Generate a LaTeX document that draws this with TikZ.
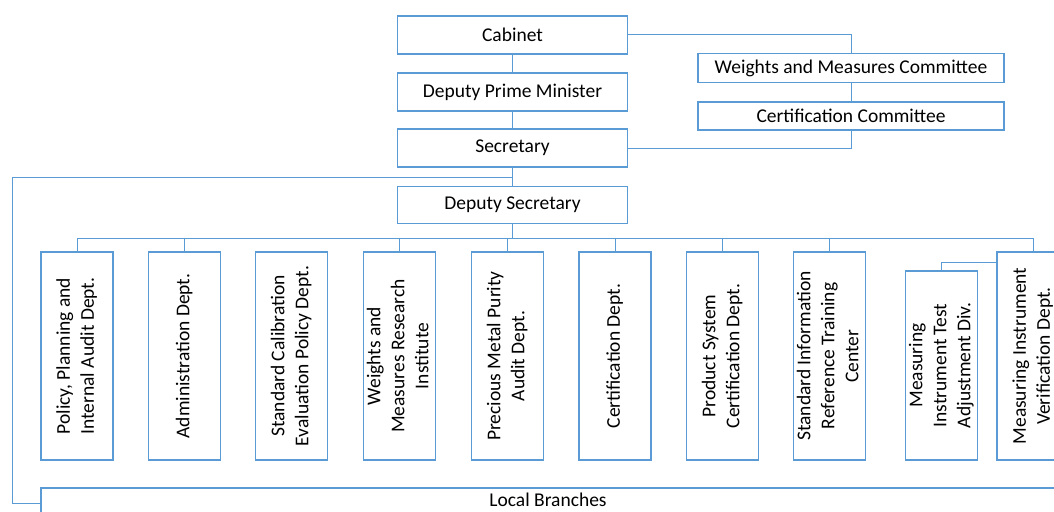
\documentclass[tikz,border=0pt]{standalone}
\usepackage{fontspec}
\setmainfont{Carlito}
\definecolor{orgblue}{RGB}{91,155,213}
% text of a department box, set bottom-to-top
\newcommand{\deptlabel}[1]{\rotatebox{90}{\begin{tabular}{@{}c@{}}#1\end{tabular}}}
\begin{document}
\begin{tikzpicture}[x=1pt,y=-1pt,
  box/.style={draw=orgblue,line width=1.6pt,fill=white,inner sep=0pt,
    font=\fontsize{19.5}{24}\selectfont},
  topbox/.style={box,minimum width=230pt,minimum height=38pt},
  cmtbox/.style={box,minimum width=306pt,minimum height=29pt},
  dept/.style={box,minimum width=72pt,minimum height=208pt},
  link/.style={draw=orgblue,line width=1pt}]
\clip (0,0) rectangle (1054,511);
\fill[white] (0,0) rectangle (1054,511);

% upper chain
\node[topbox] (cab)  at (512.5,35)  {Cabinet};
\node[topbox] (dpm)  at (512.5,92)  {Deputy Prime Minister};
\node[topbox] (sec)  at (512.5,148) {Secretary};
\node[topbox,minimum height=37pt] (dsec) at (512.5,205) {Deputy Secretary};

% committees
\node[cmtbox] (wmc) at (851,68)  {Weights and Measures Committee};
\node[cmtbox,minimum height=28pt] (cc) at (851,116) {Certification Committee};

% departments
\node[dept] (d1) at (77,356)    {\deptlabel{Policy, Planning and\\Internal Audit Dept.}};
\node[dept] (d2) at (184.5,356) {\deptlabel{Administration Dept.}};
\node[dept] (d3) at (291.5,356) {\deptlabel{Standard Calibration\\Evaluation Policy Dept.}};
\node[dept] (d4) at (399.5,356) {\deptlabel{Weights and\\Measures Research\\Institute}};
\node[dept] (d5) at (507.5,356) {\deptlabel{Precious Metal Purity\\Audit Dept.}};
\node[dept] (d6) at (615,356)   {\deptlabel{Certification Dept.}};
\node[dept] (d7) at (722.5,356) {\deptlabel{Product System\\Certification Dept.}};
\node[dept] (d8) at (829.5,356) {\deptlabel{Standard Information\\Reference Training\\Center}};
\node[box,minimum width=71pt,minimum height=189pt] (d9) at (941.5,365.5)
  {\deptlabel{Measuring\\Instrument Test\\Adjustment Div.}};
\node[dept] (d10) at (1033,356) {\deptlabel{Measuring Instrument\\Verification Dept.}};

% local branches: wide frame running past the lower edge, label inside it
\node[box,minimum width=1015pt,minimum height=30pt] (lb) at (548.5,503) {};
\node[font=\fontsize{19.5}{24}\selectfont,inner sep=0pt] (lbtext) at (548,499.5) {Local Branches};

% connectors of the upper chain
\draw[link] (cab.south) -- (dpm.north);
\draw[link] (dpm.south) -- (sec.north);
\draw[link] (sec.south) -- (dsec.north);
\draw[link] (cab.east) -| (wmc.north);
\draw[link] (wmc.south) -- (cc.north);
\draw[link] (cc.south) |- (sec.east);

% line to local branches
\coordinate (jn) at (512.5,177);
\coordinate (lc) at (12,177);
\draw[link] (jn) -- (lc) |- (lb.west);

% bus to departments
\coordinate (busL) at (77,238);
\coordinate (busR) at (1033,238);
\draw[link] (dsec.south) -- (dsec.south |- busL);
\draw[link] (busL) -- (busR);
\foreach \d in {d1,d2,d4,d5,d6,d7,d8,d10}
  \draw[link] (\d.north) -- (\d.north |- busL);

% division under the verification department
\coordinate (dv) at (997,262);
\draw[link] (d9.north) |- (dv);
\end{tikzpicture}
\end{document}
